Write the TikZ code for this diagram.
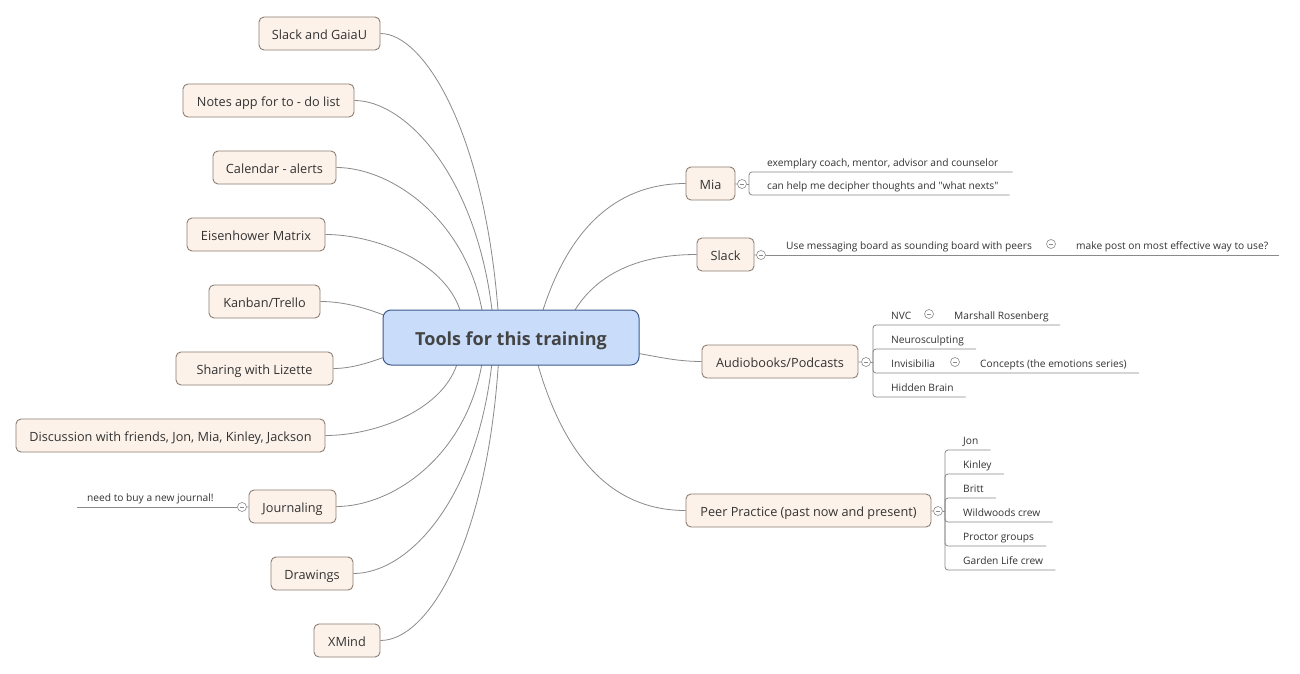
\documentclass[tikz,border=0pt]{standalone}
\usepackage{fontspec}
\setmainfont{Open Sans}
\newfontfamily\osraw{Open Sans}
\usetikzlibrary{calc,backgrounds}
\definecolor{tfill}{HTML}{FDF2E9}
\definecolor{tdraw}{HTML}{8C7E74}
\definecolor{cfill}{HTML}{C9DDFB}
\definecolor{cdraw}{HTML}{3E5A8C}
\definecolor{lcol}{HTML}{8A8A8A}
\definecolor{txt}{HTML}{333333}
\definecolor{ctxt}{HTML}{444444}
\begin{document}
\begin{tikzpicture}[x=1pt,y=-1pt,
  topic/.style={draw=tdraw, fill=tfill, rounded corners=5pt, line width=0.9pt,
    minimum height=33pt, inner sep=0pt, text height=12pt, text depth=0pt,
    font=\fontsize{12.7}{15}\selectfont, text=txt},
  root/.style={draw=cdraw, fill=cfill, rounded corners=8pt, line width=1pt,
    minimum width=256pt, minimum height=55pt, inner sep=0pt, text height=16pt, text depth=0pt,
    font=\fontsize{18}{22}\selectfont\bfseries, text=ctxt},
  leaf/.style={inner sep=0pt, font=\fontsize{10.2}{12}\selectfont, text=txt, anchor=base west},
  conn/.style={draw=lcol, line width=0.8pt},
  sub/.style={draw=lcol, line width=0.8pt, rounded corners=3pt},
  fold/.style={circle, draw=lcol, fill=white, line width=0.6pt, minimum size=9pt, inner sep=0pt,
    path picture={\draw[lcol, line width=0.6pt] ([xshift=-2.3pt]path picture bounding box.center) -- ([xshift=2.3pt]path picture bounding box.center);}},
]
\useasboundingbox (0,0) rectangle (1300,674);

% central
\node[root] (root) at (511,337.5) {Tools for this training};

% left topics
\node[topic, minimum width=121pt] (sg) at (319.5,33.5) {Slack and GaiaU};
\node[topic, minimum width=171pt] (notes) at (268.5,100.5) {Notes app for to - do list};
\node[topic, minimum width=123pt] (cal) at (274.5,167.5) {Calendar - alerts};
\node[topic, minimum width=138pt] (eis) at (256,234.5) {Eisenhower Matrix};
\node[topic, minimum width=111pt] (kan) at (264.5,301.5) {Kanban/Trello};
\node[topic, minimum width=157pt] (liz) at (254.5,368.5) {Sharing with Lizette};
\node[topic, minimum width=309pt] (disc) at (170.5,435.5) {Discussion with friends, Jon, Mia, Kinley, Jackson};
\node[topic, minimum width=87pt] (jour) at (292.5,506.5) {Journaling};
\node[topic, minimum width=82pt] (draw) at (312,573.5) {Drawings};
\node[topic, minimum width=66pt] (xm) at (347,640.5) {XMind};

% right topics
\node[topic, minimum width=49pt] (mia) at (710.5,183.5) {Mia};
\node[topic, minimum width=57pt] (slk) at (725.5,254.5) {Slack};
\node[topic, minimum width=156pt] (aud) at (780,361.5) {Audiobooks/Podcasts};
\node[topic, minimum width=245pt] (peer) at (808.5,510.5) {Peer Practice (past now and present)};

% fold markers
\node[fold] (miac) at (742,184) {};
\node[fold] (slkc) at (761,255) {};
\node[fold] (s1c) at (1051,244) {};
\node[fold] (audc) at (866,362) {};
\node[fold] (a1c) at (929,314) {};
\node[fold] (a3c) at (955,362) {};
\node[fold] (pc) at (938,511) {};
\node[fold] (jc) at (242,507) {};

% leaf texts
\node[leaf] (m1) at (767,166) {exemplary coach, mentor, advisor and counselor};
\node[leaf] (m2) at (767,189) {can help me decipher thoughts and {\osraw"}what nexts{\osraw"}};
\node[leaf] (s1) at (786,249) {Use messaging board as sounding board with peers};
\node[leaf] (s2) at (1076,249) {make post on most effective way to use?};
\node[leaf] (a1) at (891,319) {NVC};
\node[leaf] (a1g) at (954,319) {Marshall Rosenberg};
\node[leaf] (a2) at (891,343) {Neurosculpting};
\node[leaf] (a3) at (891,367) {Invisibilia};
\node[leaf] (a3g) at (980,367) {Concepts (the emotions series)};
\node[leaf] (a4) at (891,391) {Hidden Brain};
\node[leaf] (p1) at (963,444) {Jon};
\node[leaf] (p2) at (963,468) {Kinley};
\node[leaf] (p3) at (963,492) {Britt};
\node[leaf] (p4) at (963,516) {Wildwoods crew};
\node[leaf] (p5) at (963,540) {Proctor groups};
\node[leaf] (p6) at (963,564) {Garden Life crew};
\node[leaf] (j1) at (87,501) {need to buy a new journal!};

\coordinate (miaj) at (749,184);
\coordinate (audj) at (873,362);
\coordinate (peerj) at (945,511);

\begin{scope}[on background layer]
\fill[white] (0,0) rectangle (1300,674);
% left connectors
\draw[conn] (sg.east) .. controls (423.7,33.5) and (483.8,130.3) .. (498,310);
\draw[conn] (notes.east) .. controls (405,100.5) and (475.4,174.2) .. (492,310);
\draw[conn] (cal.east) .. controls (390,167.5) and (464.5,217.7) .. (482,310);
\draw[conn] (eis.east) .. controls (375,234.5) and (443.8,261.3) .. (460,310);
\draw[conn] (kan.east) .. controls (350,301.5) and (378,312) .. (400,322);
\draw[conn] (liz.east) .. controls (358,368.5) and (380,358) .. (400,352);
\draw[conn] (disc.east) .. controls (375,435.5) and (441,410.8) .. (456.7,365);
\draw[conn] (jour.east) .. controls (392,506.5) and (465,457.3) .. (481.7,365);
\draw[conn] (draw.east) .. controls (408,573.5) and (476,500.9) .. (491.7,365);
\draw[conn] (xm.east) .. controls (428,640.5) and (486,544.4) .. (498.3,365);
% right connectors
\draw[conn] (mia.west) .. controls (621.6,183.5) and (571.6,221.8) .. (543,310);
\draw[conn] (slk.west) .. controls (642,254.5) and (599,271.5) .. (575,310);
\draw[conn] (aud.west) .. controls (675,361.5) and (655,356) .. (630,352);
\draw[conn] (peer.west) .. controls (619.4,510.5) and (567.6,467.2) .. (538,365);
\end{scope}

% sub-topic lines
\draw[conn] (mia) -- (miac);
\draw[conn] (miac.east) -- (miaj);
\draw[sub] (miaj) |- ($(m1.base east)+(14,6)$);
\draw[sub] (miaj) |- ($(m2.base east)+(11,6)$);

\draw[conn] (slk) -- (slkc);
\draw[conn] (slkc.east) -- ($(s2.base east)+(11,6)$);

\draw[conn] (aud) -- (audc);
\draw[conn] (audc.east) -- (audj);
\draw[sub] (audj) |- ($(a1g.base east)+(11,6)$);
\draw[sub] (audj) |- ($(a2.base east)+(12,6)$);
\draw[sub] (audj) |- ($(a3g.base east)+(12,6)$);
\draw[sub] (audj) |- ($(a4.base east)+(12,6)$);

\draw[conn] (peer) -- (pc);
\draw[conn] (pc.east) -- (peerj);
\draw[sub] (peerj) |- ($(p1.base east)+(12,6)$);
\draw[sub] (peerj) |- ($(p2.base east)+(12,6)$);
\draw[sub] (peerj) |- ($(p3.base east)+(12,6)$);
\draw[sub] (peerj) |- ($(p4.base east)+(12,6)$);
\draw[sub] (peerj) |- ($(p5.base east)+(12,6)$);
\draw[sub] (peerj) |- ($(p6.base east)+(12,6)$);

\draw[conn] (jour) -- (jc);
\draw[conn] (jc.west) -- ($(j1.base west)+(-10,6)$);
\end{tikzpicture}
\end{document}
